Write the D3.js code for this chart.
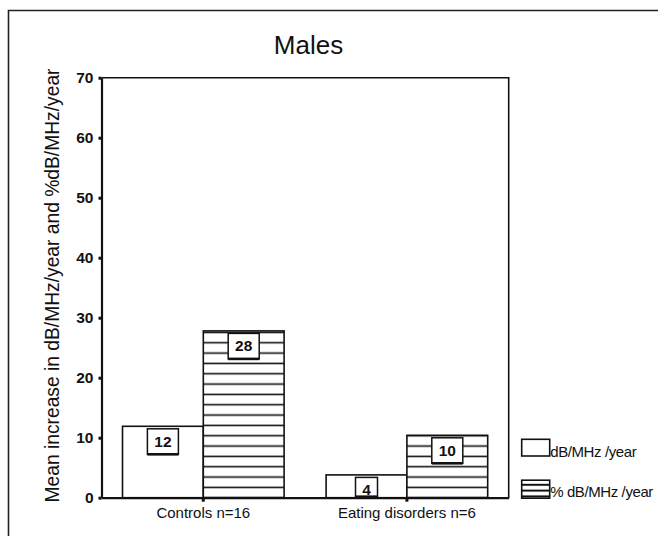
<!DOCTYPE html>
<html>
<head>
<meta charset="utf-8">
<script src="https://cdn.jsdelivr.net/npm/d3@7"></script>
<style>
  body { margin: 0; background: #fff; }
  svg { display: block; font-family: "Liberation Sans", Arial, Helvetica, sans-serif; }
</style>
</head>
<body>
<svg id="chart" width="658" height="536"></svg>
<script>
// Group categories along the x axis
const categories = ["Controls n=16", "Eating disorders n=6"];
// Series shown side by side inside each group
const seriesNames = ["dB/MHz /year", "% dB/MHz /year"];
// Mean increase per group, one array per series
const absoluteValues = [11.9, 3.8];   // dB/MHz/year
const percentValues  = [27.8, 10.4];  // % dB/MHz/year
// Y axis ticks
const yTicks = [0, 10, 20, 30, 40, 50, 60, 70];

const titleText = "Males";
const yAxisTitle = "Mean increase in dB/MHz/year and %dB/MHz/year";

const rows = categories.map((c, i) => ({
  category: c,
  values: [
    { series: seriesNames[0], value: absoluteValues[i] },
    { series: seriesNames[1], value: percentValues[i] }
  ]
}));

const svg = d3.select("#chart");
const plot = { left: 101.5, right: 508.7, top: 77.7, bottom: 497.7 };

const x0 = d3.scaleBand().domain(categories).range([plot.left, plot.right]).padding(0);
const x1 = d3.scaleBand().domain(seriesNames).range([0, x0.bandwidth()])
  .paddingInner(0).paddingOuter(0.26);
const y = d3.scaleLinear().domain([0, 70]).range([plot.bottom, plot.top]);

// Horizontal-line hatch, anchored on the baseline
const defs = svg.append("defs");
function hatch(id, step, width, anchor) {
  const p = defs.append("pattern").attr("id", id)
    .attr("patternUnits", "userSpaceOnUse")
    .attr("x", 0).attr("y", anchor - step / 2)
    .attr("width", 20).attr("height", step);
  p.append("rect").attr("width", 20).attr("height", step).attr("fill", "#fff");
  p.append("line").attr("x1", 0).attr("x2", 20)
    .attr("y1", step / 2).attr("y2", step / 2)
    .attr("stroke", "#111").attr("stroke-width", width);
}
hatch("hatchBar", 10.33, 1.6, plot.bottom);
hatch("hatchKey", 5.8, 2.0, 480.2);

const fillFor = s => s === seriesNames[0] ? "#fff" : "url(#hatchBar)";

// Outer frame (left and top edges)
svg.append("path").attr("d", "M8.5,536 V10.5 H658")
  .attr("fill", "none").attr("stroke", "#222").attr("stroke-width", 1.6);

// Title
svg.append("text").attr("x", 308.5).attr("y", 54).attr("text-anchor", "middle")
  .attr("font-size", 26).attr("fill", "#111").text(titleText);

// Plot frame: top and right edges
svg.append("path")
  .attr("d", `M${plot.left},${plot.top} H${plot.right} V${plot.bottom}`)
  .attr("fill", "none").attr("stroke", "#111").attr("stroke-width", 1.6);

// Bars
const groups = svg.append("g").selectAll("g").data(rows).join("g")
  .attr("transform", d => `translate(${x0(d.category)},0)`);

groups.selectAll("rect.bar").data(d => d.values).join("rect")
  .attr("class", "bar")
  .attr("x", d => x1(d.series))
  .attr("y", d => y(d.value))
  .attr("width", x1.bandwidth())
  .attr("height", d => y(0) - y(d.value))
  .attr("fill", d => fillFor(d.series))
  .attr("stroke", "#111").attr("stroke-width", 1.6);

// Value boxes just under each bar top
const fmt = v => d3.format(".0f")(v);
groups.selectAll("g.lab").data(d => d.values).join("g")
  .attr("class", "lab")
  .each(function(d) {
    const g = d3.select(this);
    const txt = fmt(d.value);
    const w = txt.length === 1 ? 22 : 31;
    const cx = x1(d.series) + x1.bandwidth() / 2;
    const top = y(d.value) + 2.5;
    const h = Math.min(25.5, y(0) - 1 - top);
    g.append("rect").attr("x", cx - w / 2).attr("y", top)
      .attr("width", w).attr("height", h)
      .attr("fill", "#fff").attr("stroke", "#111").attr("stroke-width", 1.5);
    g.append("line").attr("x1", cx - w / 2).attr("x2", cx + w / 2)
      .attr("y1", top + h).attr("y2", top + h)
      .attr("stroke", "#111").attr("stroke-width", 2.6);
    g.append("text").attr("x", cx).attr("y", top + 12.5)
      .attr("dy", "0.36em").attr("text-anchor", "middle")
      .attr("font-size", 15.5).attr("font-weight", 600).attr("fill", "#111")
      .text(txt);
  });

// Y axis
const yAxis = svg.append("g").attr("transform", `translate(${plot.left},0)`)
  .call(d3.axisLeft(y).tickValues(yTicks).tickSize(3).tickPadding(5).tickSizeOuter(0));
yAxis.select(".domain").attr("stroke", "#111").attr("stroke-width", 2.2);
yAxis.selectAll(".tick line").attr("stroke", "#111").attr("stroke-width", 3);
yAxis.selectAll(".tick text").attr("font-size", 15.5).attr("font-weight", "bold")
  .attr("font-family", "'Liberation Sans', Arial, sans-serif").attr("fill", "#111");

// X axis
const xAxis = svg.append("g").attr("transform", `translate(0,${plot.bottom})`)
  .call(d3.axisBottom(x0).tickSize(4).tickPadding(6).tickSizeOuter(0));
xAxis.select(".domain").attr("stroke", "#111").attr("stroke-width", 2.2);
xAxis.selectAll(".tick line").attr("stroke", "#111").attr("stroke-width", 3);
xAxis.selectAll(".tick text").attr("font-size", 15)
  .attr("font-family", "'Liberation Sans', Arial, sans-serif").attr("fill", "#111");

// Y axis title
svg.append("text")
  .attr("transform", "translate(58.5,285.5) rotate(-90)")
  .attr("text-anchor", "middle").attr("font-size", 21).attr("fill", "#111")
  .attr("textLength", 434).attr("lengthAdjust", "spacingAndGlyphs")
  .text(yAxisTitle);

// Legend
const legend = svg.append("g").selectAll("g").data(seriesNames).join("g")
  .attr("transform", (d, i) => `translate(521.7,${i === 0 ? 439.3 : 480.2})`);
legend.append("rect").attr("width", 28).attr("height", d => d === seriesNames[0] ? 16.7 : 18)
  .attr("fill", d => d === seriesNames[0] ? "#fff" : "url(#hatchKey)")
  .attr("stroke", "#111").attr("stroke-width", 1.6);
legend.append("text").attr("x", 28.5).attr("y", d => d === seriesNames[0] ? 17.4 : 16.5)
  .attr("font-size", 15).attr("letter-spacing", -0.4).attr("fill", "#111")
  .text(d => d);
</script>
</body>
</html>
